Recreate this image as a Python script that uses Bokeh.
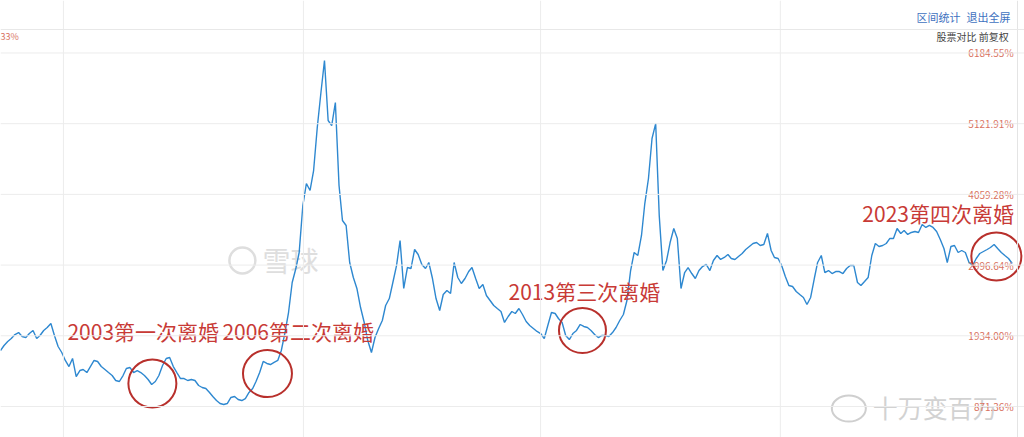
import pandas as pd
from bokeh.plotting import figure
from bokeh.models import Range1d, Span
from bokeh.embed import file_html
from bokeh.resources import INLINE
from bokeh.core.properties import value

# ---------------- data ----------------
start_month = "2000-04-01"
index_values = [
    1713, 1788, 1848, 1893, 1953, 1983, 1923, 1908, 1968, 2014,
    1893, 1938, 2014, 2059, 2119, 1938, 1773, 1683, 1563, 1472,
    1593, 1322, 1412, 1427, 1382, 1472, 1563, 1548, 1472, 1427,
    1382, 1337, 1262, 1247, 1337, 1442, 1457, 1382, 1412, 1382,
    1337, 1277, 1202, 1247, 1337, 1487, 1593, 1608, 1472, 1382,
    1292, 1292, 1262, 1277, 1262, 1187, 1157, 1142, 1082, 1022,
    961, 916, 901, 916, 1007, 1022, 976, 961, 991, 1082,
    1142, 1247, 1382, 1548, 1518, 1502, 1533, 1563, 1713, 1983,
    2284, 2735, 2945, 3186, 3892, 4223, 4118, 4418, 5064, 5591,
    6071, 5170, 5094, 5440, 4193, 3667, 3592, 3036, 2810, 2645,
    2359, 2134, 1863, 1683, 1908, 2044, 2164, 2389, 2494, 2735,
    2990, 3366, 2645, 2960, 2945, 3231, 3156, 3006, 2945, 3036,
    2795, 2494, 2314, 2555, 2615, 2570, 3036, 2810, 2720, 2795,
    2900, 2960, 2795, 2645, 2705, 2540, 2465, 2389, 2344, 2299,
    2134, 2224, 2299, 2269, 2344, 2254, 2149, 2089, 2044, 1999,
    1968, 1893, 2089, 2284, 2269, 2194, 2134, 1938, 1878, 1968,
    2014, 2104, 2074, 2059, 2014, 1953, 1908, 1938, 1938, 1923,
    1983, 2059, 2164, 2254, 2465, 2915, 3186, 3141, 3442, 3922,
    4298, 4899, 5124, 3742, 2915, 3066, 3336, 3547, 3397, 2645,
    2885, 2960, 2870, 2795, 2915, 2975, 3006, 2915, 3066, 3141,
    3081, 3111, 3156, 3096, 3081, 3126, 3171, 3231, 3276, 3321,
    3336, 3291, 3306, 3472, 3216, 3111, 3096, 2990, 2825, 2690,
    2675, 2600, 2555, 2510, 2404, 2510, 2795, 3036, 3141, 2885,
    2915, 2870, 2900, 2900, 2870, 2945, 2990, 2990, 2735, 2690,
    2750, 2810, 3141, 3321, 3276, 3291, 3321, 3397, 3397, 3547,
    3472, 3517, 3457, 3487, 3502, 3487, 3607, 3562, 3592, 3562,
    3502, 3382, 3246, 3036, 3276, 3291, 3186, 3216, 3186, 3036,
    2990, 3096, 3171, 3201, 3231, 3261, 3306, 3246, 3186, 3141, 3096, 3021,
]
dates = pd.date_range(start_month, periods=len(index_values), freq="MS")

tick_values = [871.36, 1934.00, 2996.64, 4059.28, 5121.91, 6184.55]
tick_labels = ["871.36%", "1934.00%", "2996.64%", "4059.28%", "5121.91%", "6184.55%"]
vgrid_dates = ["2001-09-15", "2007-04-06", "2012-10-01", "2018-04-20"]

note_texts = ["2003第一次离婚", "2006第二次离婚", "2013第三次离婚", "2023第四次离婚"]
note_dates = ["2001-10-19", "2005-05-21", "2012-01-04", "2020-03-13"]
note_levels = [1999, 1999, 2600, 3787]

circle_dates = ["2003-10-07", "2006-06-06", "2013-09-20", "2023-04-20"]
circle_levels = [1217, 1367, 2014, 3126]
circle_w = [48, 49, 47, 50]
circle_h = [48, 47, 45, 48]

# ---------------- figure ----------------
ts = lambda s: pd.Timestamp(s)
ms = lambda s: pd.Timestamp(s).value // 10**6

p = figure(width=1024, height=437, x_axis_type="datetime",
           x_range=Range1d(ts("2000-04-01"), ts("2023-12-14")),
           y_range=Range1d(405.4, 6973.5),
           output_backend="svg", toolbar_location=None,
           x_axis_location=None, y_axis_location=None,
           min_border=0, outline_line_color=None,
           background_fill_color="white", border_fill_color="white")
p.grid.visible = False

for v in tick_values:
    p.add_layout(Span(location=v, dimension="width", line_color="#ececec", line_width=1))
for d in vgrid_dates:
    p.add_layout(Span(location=ms(d), dimension="height", line_color="#ececec", line_width=1))
# right border and header line
p.add_layout(Span(location=ms("2023-10-16"), dimension="height", line_color="#e4e4e4", line_width=1))
p.add_layout(Span(location=6538, dimension="width", line_color="#e8e8e8", line_width=1))

# watermarks
p.text(x=[ts("2006-04-25")], y=[3066], text=["雪球"], text_font=value("Noto Sans CJK SC"),
       text_font_size="28px", text_color="#dedede", text_baseline="middle", text_align="left")
p.ellipse(x=[ts("2005-11-06")], y=[3066], width=[26], height=[26], width_units="screen",
          height_units="screen", fill_color=None, line_color="#dedede", line_width=2.5)
p.text(x=[ts("2020-06-10")], y=[871], text=["十万变百万"], text_font=value("Noto Sans CJK SC"),
       text_font_size="25px", text_color="#d2d2d2", text_baseline="middle", text_align="left")
p.ellipse(x=[ts("2019-11-20")], y=[840], width=[34], height=[26], width_units="screen",
          height_units="screen", fill_color=None, line_color="#cfcfcf", line_width=2)

# series
p.line(dates, index_values, line_color="#2e88d0", line_width=1.4)

# right-side value labels
p.text(x=[ts("2023-09-13")] * len(tick_values), y=tick_values, text=tick_labels,
       text_font=value("Noto Sans CJK SC"), text_font_size="10px", text_color="#d9735f",
       text_baseline="middle", text_align="right")

# header
p.text(x=[ts("2021-06-13"), ts("2022-08-10")], y=[6733, 6733], text=["区间统计", "退出全屏"],
       text_font=value("Noto Sans CJK SC"), text_font_size="11px", text_color="#3f72c0",
       text_baseline="middle", text_align="left")
p.text(x=[ts("2021-12-01")], y=[6432], text=["股票对比 前复权"],
       text_font=value("Noto Sans CJK SC"), text_font_size="10px", text_color="#444444",
       text_baseline="middle", text_align="left")
p.text(x=[ts("2000-04-02")], y=[6432], text=["33%"],
       text_font=value("Noto Sans CJK SC"), text_font_size="9px", text_color="#d9735f",
       text_baseline="middle", text_align="left")

# annotations
p.text(x=[ts(d) for d in note_dates], y=note_levels, text=note_texts,
       text_font=value("Noto Sans CJK SC"), text_font_size="21px", text_color="#c83a36",
       text_baseline="middle", text_align="left")
p.ellipse(x=[ts(d) for d in circle_dates], y=circle_levels, width=circle_w, height=circle_h,
          width_units="screen", height_units="screen", fill_color=None,
          line_color="#b8302c", line_width=2)

open("out.html", "w").write(file_html(p, INLINE))
